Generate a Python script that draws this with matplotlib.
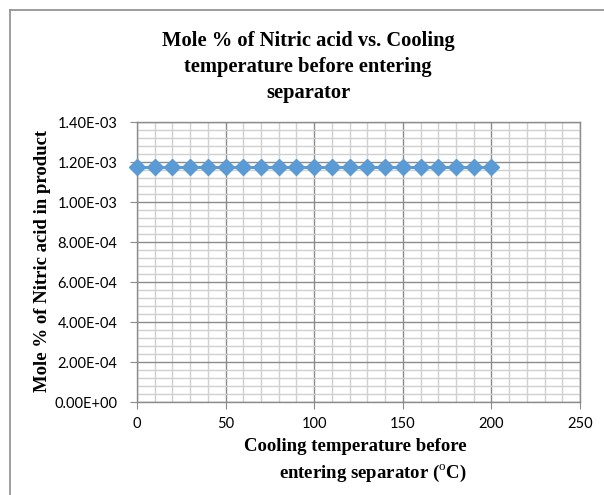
import numpy as np
import matplotlib
matplotlib.use("Agg")
import matplotlib.pyplot as plt
from matplotlib.ticker import MultipleLocator
from matplotlib.lines import Line2D

# === data ===
temps = [0, 10, 20, 30, 40, 50, 60, 70, 80, 90, 100,
         110, 120, 130, 140, 150, 160, 170, 180, 190, 200]
mole_pct = [1.175e-3] * len(temps)

TITLE = "Mole % of Nitric acid vs. Cooling\ntemperature before entering\nseparator"
YLABEL = "Mole % of Nitric acid in product"
XLABEL = "Cooling temperature before\nentering separator ($^{\\rm o}$C)"

# === style ===
BLUE = "#5b9bd5"
MAJOR = "#8c8c8c"
MINOR = "#d0d0d0"
SERIF = "Liberation Serif"
SANS = "Lato"

plt.rcParams["mathtext.fontset"] = "custom"
plt.rcParams["mathtext.rm"] = "Liberation Serif"

fig = plt.figure(figsize=(6.04, 4.95), dpi=100)
ax = fig.add_axes([137 / 604, 1 - 402 / 495, (580 - 137) / 604, (402 - 122) / 495])

ax.plot(temps, mole_pct, color=BLUE, linewidth=2.2, marker="D",
        markersize=8, markeredgecolor=BLUE, zorder=3, clip_on=False)

ax.set_xlim(0, 250)
ax.set_ylim(0, 1.4e-3)
ax.xaxis.set_major_locator(MultipleLocator(50))
ax.xaxis.set_minor_locator(MultipleLocator(10))
ax.yaxis.set_major_locator(MultipleLocator(2e-4))
ax.yaxis.set_minor_locator(MultipleLocator(4e-5))

ax.yaxis.set_major_formatter(plt.FuncFormatter(lambda v, p: f"{v:.2E}"))
ax.grid(True, which="minor", color=MINOR, linewidth=1.0, zorder=0)
ax.grid(True, which="major", color=MAJOR, linewidth=1.0, zorder=1)
ax.set_axisbelow(True)

for s in ax.spines.values():
    s.set_color(MAJOR)
    s.set_linewidth(1.0)

ax.tick_params(which="major", direction="out", length=5, color=MAJOR,
               labelsize=10.5)
ax.tick_params(which="minor", length=0)
ax.tick_params(axis="y", pad=9)
ax.tick_params(axis="x", pad=6)
for lab in ax.get_xticklabels() + ax.get_yticklabels():
    lab.set_fontfamily(SANS)

fig.text(308 / 604, 1 - 67 / 495, TITLE, ha="center", va="center",
         fontsize=14.8, fontweight="bold", family=SERIF, linespacing=1.38)
fig.text(43 / 604, 1 - 261 / 495, YLABEL, ha="center", va="center",
         rotation=90, fontsize=13.5, fontweight="bold", family=SERIF)
fig.text(467 / 604, 1 - 461 / 495, XLABEL, ha="right", va="center",
         multialignment="right", fontsize=13.5, fontweight="bold", family=SERIF,
         linespacing=1.5)

# outer chart border (top and left visible)
fig.add_artist(Line2D([9.5 / 604, 9.5 / 604], [0, 1 - 10 / 495],
                      color="#8c8c8c", linewidth=1.2))
fig.add_artist(Line2D([9.5 / 604, 1], [1 - 10 / 495, 1 - 10 / 495],
                      color="#8c8c8c", linewidth=1.2))

fig.savefig("out.png", dpi=100)
